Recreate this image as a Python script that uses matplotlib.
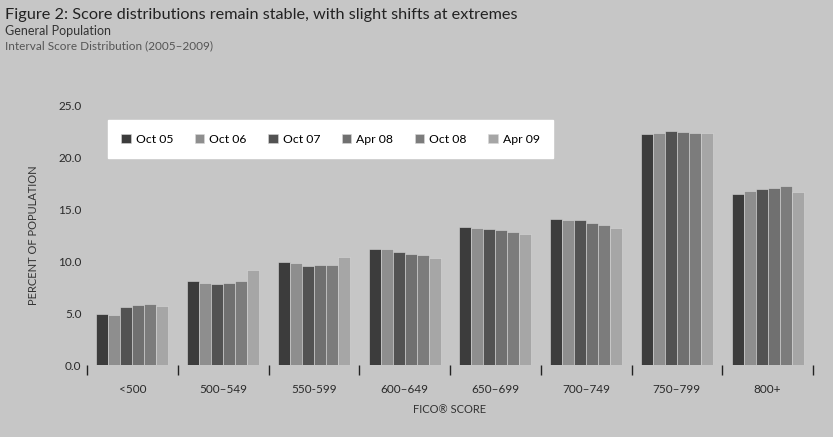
import matplotlib
matplotlib.use("Agg")
import matplotlib.pyplot as plt
import numpy as np

plt.rcParams['font.family'] = ['Lato', 'DejaVu Sans']

categories = ["<500", "500\u2013549", "550-599", "600\u2013649", "650\u2013699",
              "700\u2013749", "750\u2013799", "800+"]
series_names = ["Oct 05", "Oct 06", "Oct 07", "Apr 08", "Oct 08", "Apr 09"]

oct05 = [4.9, 8.1, 9.9, 11.2, 13.3, 14.0, 22.2, 16.4]
oct06 = [4.8, 7.9, 9.8, 11.2, 13.2, 13.9, 22.3, 16.7]
oct07 = [5.6, 7.8, 9.55, 10.9, 13.05, 13.9, 22.5, 16.9]
apr08 = [5.75, 7.9, 9.65, 10.7, 13.0, 13.7, 22.4, 17.0]
oct08 = [5.85, 8.1, 9.65, 10.6, 12.8, 13.5, 22.35, 17.25]
apr09 = [5.65, 9.1, 10.35, 10.3, 12.55, 13.2, 22.3, 16.6]

y_ticks = [0.0, 5.0, 10.0, 15.0, 20.0, 25.0]

series = [oct05, oct06, oct07, apr08, oct08, apr09]
colors = ["#3c3c3c", "#8e8e8e", "#525252", "#707070", "#7c7c7c", "#a6a6a6"]
bg = "#c6c6c6"

fig = plt.figure(figsize=(8.33, 4.37), dpi=100, facecolor=bg)
ax = fig.add_axes([87 / 833, 1 - 365 / 437, (813 - 87) / 833, (365 - 105) / 437])
ax.set_facecolor(bg)

n = len(series)
bar_w = 0.132
x = np.arange(len(categories))
for i, (vals, c, name) in enumerate(zip(series, colors, series_names)):
    offs = (i - (n - 1) / 2) * bar_w
    ax.bar(x + offs, vals, width=bar_w, color=c, edgecolor="#d8d8d8",
           linewidth=0.4, label=name, zorder=2)

ax.set_xlim(-0.5, len(categories) - 0.5)
ax.set_ylim(0, 25)
ax.set_yticks(y_ticks)
ax.set_yticklabels([f"{v:.1f}" for v in y_ticks], fontsize=8.5, color="#2a2a2a")
ax.tick_params(axis="y", length=0, pad=4)

ax.set_xticks(x)
ax.set_xticklabels(categories, fontsize=8.5, color="#2a2a2a")
ax.tick_params(axis="x", which="major", length=0, pad=14)
ax.set_xticks(np.arange(-0.5, len(categories), 1.0), minor=True)
ax.tick_params(axis="x", which="minor", length=7, width=1.0, color="#222222",
               direction="out")

for s in ax.spines.values():
    s.set_visible(False)

ax.set_ylabel("PERCENT OF POPULATION", fontsize=8, color="#333333", labelpad=14)
ax.set_xlabel("FICO\u00ae SCORE", fontsize=8, color="#333333", labelpad=6)

leg = ax.legend(loc="upper left", bbox_to_anchor=(0.02, 0.965), ncol=6,
                frameon=True, fontsize=8.8, handlelength=0.8, handleheight=0.8,
                handletextpad=0.4, columnspacing=1.75, borderpad=1.1,
                fancybox=False)
leg.get_frame().set_facecolor("white")
leg.get_frame().set_edgecolor("white")
leg.get_frame().set_alpha(1.0)

fig.text(5 / 833, 1 - 15 / 437, "Figure 2: Score distributions remain stable, with slight shifts at extremes",
         fontsize=11.7, color="#222222", va="center", ha="left")
fig.text(5 / 833, 1 - 31 / 437, "General Population", fontsize=9,
         color="#333333", va="center", ha="left")
fig.text(5 / 833, 1 - 46 / 437, "Interval Score Distribution (2005\u20132009)",
         fontsize=8.5, color="#555555", va="center", ha="left")

fig.savefig("out.png", dpi=100, facecolor=bg)
